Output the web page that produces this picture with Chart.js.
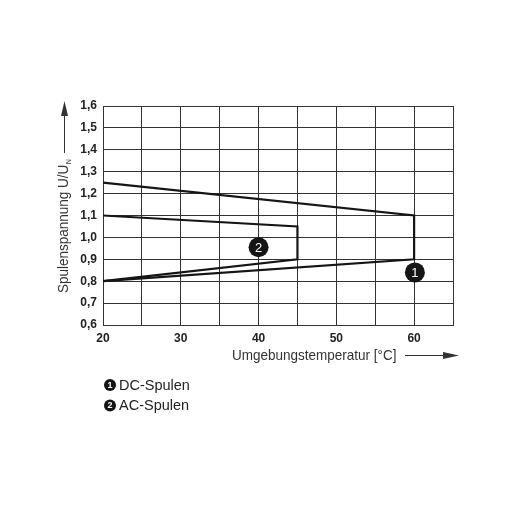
<!DOCTYPE html>
<html>
  <head>
    <meta charset="utf-8" />
    <title>Spulenspannung</title>
    <script src="https://cdn.jsdelivr.net/npm/chart.js"></script>
    <style>
      body { margin: 0; background: #fff; }
      #wrap { width: 512px; height: 512px; }
    </style>
  </head>
  <body>
    <div id="wrap"><canvas id="myChart" width="512" height="512"></canvas></div>
    <script>
      // curve outlines (temperature in degC, U/UN)
      const dcX = [20, 60, 60, 20];
      const dcY = [1.25, 1.1, 0.9, 0.8];
      const acX = [20, 45, 45, 20];
      const acY = [1.1, 1.05, 0.9, 0.8];

      // numbered markers
      const markerX = [60.1, 40];
      const markerY = [0.84, 0.955];
      const markerText = ["1", "2"];
      const legendText = ["DC-Spulen", "AC-Spulen"];

      const xTitle = "Umgebungstemperatur [°C]";
      const yTitle = "Spulenspannung U/U";
      const yTitleSub = "N";

      const ink = "#151515";
      const gridCol = "#333";
      const sans = "'Liberation Sans', Arial, sans-serif";

      function pts(xs, ys) {
        return xs.map(function (x, i) { return { x: x, y: ys[i] }; });
      }

      const extras = {
        id: "extras",
        afterDatasetsDraw: function (chart) {
          const ctx = chart.ctx;
          const meta = chart.getDatasetMeta(2);
          ctx.save();
          ctx.fillStyle = "#fff";
          ctx.font = "13px " + sans;
          ctx.textAlign = "center";
          ctx.textBaseline = "middle";
          meta.data.forEach(function (p, i) {
            ctx.fillText(markerText[i], p.x, p.y + 1);
          });
          ctx.restore();
        },
        afterDraw: function (chart) {
          const ctx = chart.ctx;
          ctx.save();
          ctx.fillStyle = "#333";
          ctx.strokeStyle = "#333";
          ctx.lineWidth = 1;

          // y title, rotated, slightly condensed, with subscript
          ctx.save();
          ctx.translate(64, 293);
          ctx.rotate(-Math.PI / 2);
          ctx.scale(0.9, 1);
          ctx.font = "15px " + sans;
          ctx.textAlign = "left";
          ctx.textBaseline = "middle";
          ctx.fillText(yTitle, 0, 0);
          const w = ctx.measureText(yTitle).width;
          ctx.font = "8px " + sans;
          ctx.fillText(yTitleSub, w + 0.5, 5);
          ctx.restore();

          // y arrow
          ctx.beginPath();
          ctx.moveTo(64.5, 153);
          ctx.lineTo(64.5, 112);
          ctx.stroke();
          ctx.beginPath();
          ctx.moveTo(64.5, 101);
          ctx.lineTo(61, 116);
          ctx.lineTo(68, 116);
          ctx.closePath();
          ctx.fill();

          // x title, slightly condensed
          ctx.save();
          ctx.translate(232, 356);
          ctx.scale(0.9, 1);
          ctx.font = "15px " + sans;
          ctx.textAlign = "left";
          ctx.textBaseline = "middle";
          ctx.fillText(xTitle, 0, 0);
          ctx.restore();

          // x arrow
          ctx.beginPath();
          ctx.moveTo(405, 355.5);
          ctx.lineTo(446, 355.5);
          ctx.stroke();
          ctx.beginPath();
          ctx.moveTo(459, 355.5);
          ctx.lineTo(443, 352);
          ctx.lineTo(443, 359);
          ctx.closePath();
          ctx.fill();

          // legend
          ctx.textBaseline = "middle";
          legendText.forEach(function (t, i) {
            const cy = 385 + i * 20.5;
            ctx.fillStyle = ink;
            ctx.beginPath();
            ctx.arc(110, cy, 6, 0, Math.PI * 2);
            ctx.fill();
            ctx.fillStyle = "#fff";
            ctx.font = "bold 9px " + sans;
            ctx.textAlign = "center";
            ctx.fillText(markerText[i], 110, cy + 0.5);
            ctx.fillStyle = "#222";
            ctx.font = "14.5px " + sans;
            ctx.textAlign = "left";
            ctx.fillText(t, 119, cy + 0.5);
          });
          ctx.restore();
        },
      };

      const config = {
        type: "scatter",
        data: {
          datasets: [
            {
              label: "DC",
              data: pts(dcX, dcY),
              showLine: true,
              borderColor: ink,
              borderWidth: 2.2,
              pointRadius: 0,
              tension: 0,
            },
            {
              label: "AC",
              data: pts(acX, acY),
              showLine: true,
              borderColor: ink,
              borderWidth: 2.2,
              pointRadius: 0,
              tension: 0,
            },
            {
              label: "Marker",
              data: pts(markerX, markerY),
              showLine: false,
              pointRadius: 10,
              backgroundColor: ink,
              borderWidth: 0,
            },
          ],
        },
        options: {
          responsive: false,
          animation: false,
          devicePixelRatio: 1,
          layout: { padding: { left: 63, top: 106, right: 59, bottom: 162 } },
          plugins: {
            legend: { display: false },
            tooltip: { enabled: false },
          },
          scales: {
            x: {
              type: "linear",
              min: 20,
              max: 65,
              afterFit: function (s) { s.height = 25; },
              grid: { color: gridCol, lineWidth: 1, drawTicks: false },
              border: { color: gridCol, width: 1 },
              ticks: {
                stepSize: 5,
                autoSkip: false,
                maxRotation: 0,
                padding: 6,
                color: "#222",
                font: { family: sans, size: 12, weight: "bold" },
                callback: function (v) {
                  return v % 10 === 0 && v <= 60 ? String(v) : "";
                },
              },
            },
            y: {
              type: "linear",
              min: 0.6,
              max: 1.6,
              afterFit: function (s) { s.width = 40; },
              grid: { color: gridCol, lineWidth: 1, drawTicks: false },
              border: { color: gridCol, width: 1 },
              ticks: {
                stepSize: 0.1,
                autoSkip: false,
                padding: 6,
                color: "#222",
                font: { family: sans, size: 12, weight: "bold" },
                callback: function (v) {
                  return v.toFixed(1).replace(".", ",");
                },
              },
            },
          },
        },
        plugins: [extras],
      };

      const myChart = new Chart(document.getElementById("myChart"), config);
    </script>
  </body>
</html>
